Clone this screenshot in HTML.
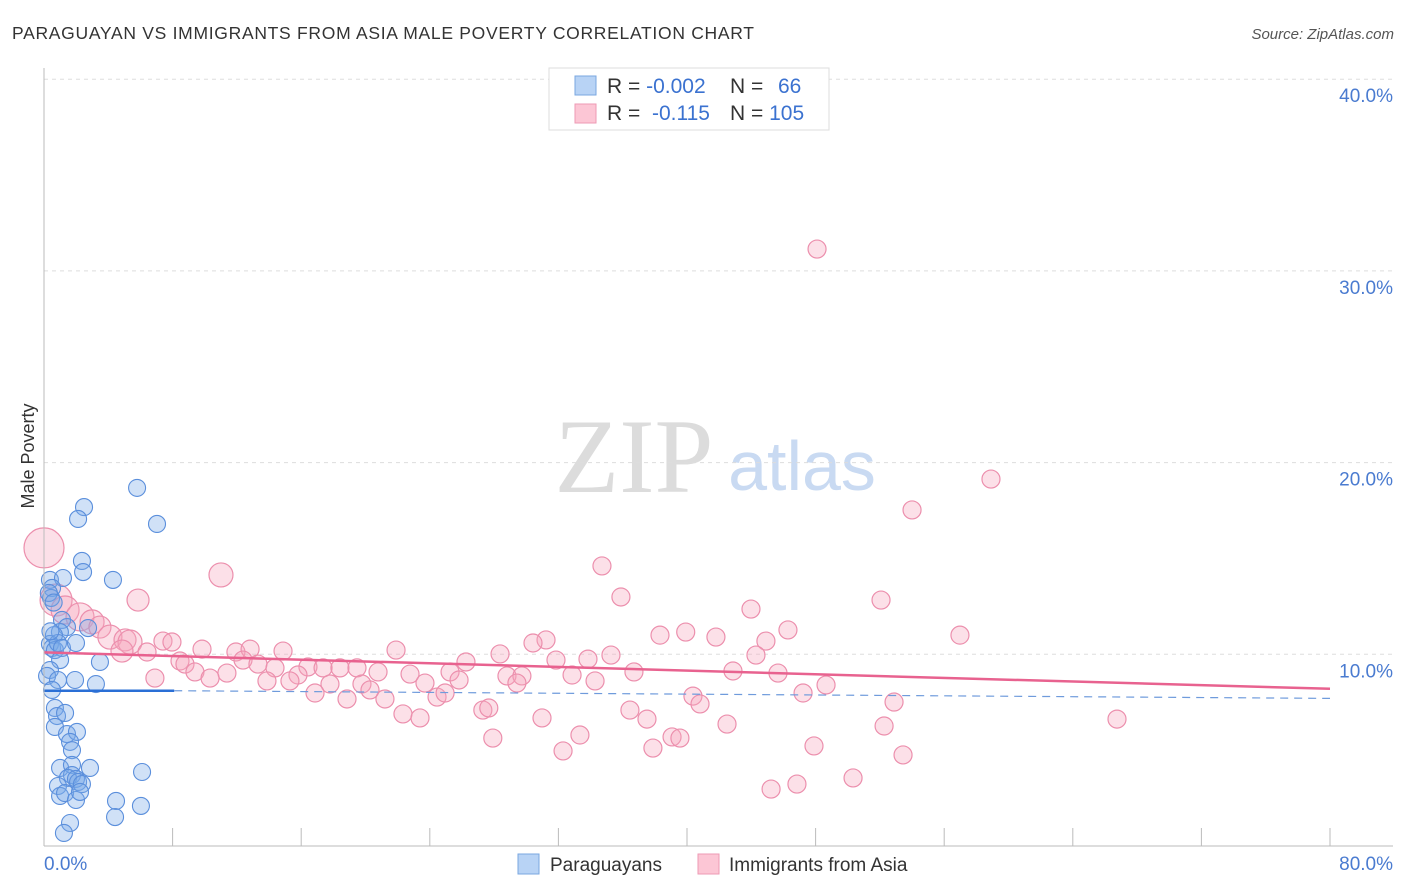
<!DOCTYPE html>
<html><head><meta charset="utf-8"><style>
body{margin:0;background:#fff;font-family:"Liberation Sans",sans-serif}
#c{position:relative;width:1406px;height:892px;overflow:hidden}
</style></head><body>
<div id="c">
<svg id="s" width="1406" height="892" xmlns="http://www.w3.org/2000/svg">
<text x="12" y="39" font-size="17.5" fill="#333" textLength="742" lengthAdjust="spacing">PARAGUAYAN VS IMMIGRANTS FROM ASIA MALE POVERTY CORRELATION CHART</text>
<text x="1394" y="39" font-size="15" fill="#555" font-style="italic" text-anchor="end">Source: ZipAtlas.com</text>
<text x="634" y="492" font-size="106" fill="#dcdcdc" font-family="Liberation Serif,serif" text-anchor="middle">ZIP</text>
<text x="802" y="490" font-size="70" fill="#c9daf2" text-anchor="middle">atlas</text>
<text transform="translate(34,456) rotate(-90)" font-size="18" fill="#333" text-anchor="middle">Male Poverty</text>
<g id="grid"></g><g id="pts"></g><g id="trend"></g>
<line x1="44" y1="68" x2="44" y2="846" stroke="#bbb"/>
<line x1="44" y1="846" x2="1393" y2="846" stroke="#bbb"/>
<text x="44" y="870" font-size="19" fill="#4a7bd0">0.0%</text>
<text x="1393" y="870" font-size="19" fill="#4a7bd0" text-anchor="end">80.0%</text>
<g>
<rect x="549" y="68" width="280" height="62" fill="#fff" stroke="#ddd"/>
<rect x="575" y="76" width="21" height="19" fill="#b8d3f5" stroke="#7aa7e0"/>
<rect x="575" y="104" width="21" height="19" fill="#fcc6d5" stroke="#ee9ab4"/>
<text x="607" y="93" font-size="21" fill="#333">R = <tspan fill="#3b72d0">-0.002</tspan></text>
<text x="730" y="93" font-size="21" fill="#333">N = <tspan fill="#3b72d0" x="778">66</tspan></text>
<text x="607" y="120" font-size="21" fill="#333">R = <tspan fill="#3b72d0" x="652">-0.115</tspan></text>
<text x="730" y="120" font-size="21" fill="#333">N = <tspan fill="#3b72d0">105</tspan></text>
</g>
<g>
<rect x="518" y="854" width="21" height="20" fill="#b8d3f5" stroke="#7aa7e0"/>
<text x="550" y="871" font-size="19" fill="#333">Paraguayans</text>
<rect x="698" y="854" width="21" height="20" fill="#fcc6d5" stroke="#ee9ab4"/>
<text x="729" y="871" font-size="19" fill="#333">Immigrants from Asia</text>
</g>
</svg>
</div>
<script>
const yTicks=[10,20,30,40];
const yTickLabels=["10.0%","20.0%","30.0%","40.0%"];
const xTicks=[0,8,16,24,32,40,48,56,64,72,80];
const blueTrend=[[0,8.1],[8.1,8.1],[80,7.7]];
const pinkTrend=[[0,10.1],[80,8.2]];
const bluePts=[[5.79,18.68],[2.49,17.68],[2.12,17.06],[7.03,16.8],[2.36,14.87],[2.43,14.29],[4.29,13.88],[0.37,13.88],[1.18,13.98],[0.5,13.46],[0.44,12.94],[1.12,11.79],[1.43,11.42],[2.74,11.37],[0.99,11.16],[0.62,11.0],[0.37,10.54],[0.5,10.33],[0.68,10.22],[0.87,10.59],[1.12,10.33],[1.99,10.59],[1.0,9.7],[3.48,9.6],[0.37,9.18],[0.19,8.87],[0.87,8.66],[1.93,8.66],[3.23,8.45],[0.5,8.14],[0.68,7.2],[0.81,6.78],[1.31,6.94],[0.68,6.21],[1.43,5.84],[2.05,5.95],[1.62,5.43],[1.74,5.0],[1.0,4.07],[2.86,4.07],[1.74,4.23],[1.74,3.7],[1.49,3.55],[1.99,3.5],[2.12,3.34],[2.36,3.23],[6.1,3.86],[0.87,3.13],[1.0,2.61],[1.31,2.76],[1.99,2.4],[2.24,2.82],[4.48,2.35],[6.03,2.09],[4.42,1.51],[1.62,1.2],[1.24,0.68],[0.3,13.2],[0.6,12.7],[0.4,11.2]];
const pinkPts=[[0,15.55,20],[48.09,31.14],[58.91,19.14],[54.0,17.53],[34.71,14.61],[11.01,14.14,12],[35.89,12.99],[5.85,12.83,11],[52.07,12.83],[43.98,12.36],[0.75,12.83,16],[1.31,12.31,14],[2.24,11.95,14],[2.99,11.69,12],[3.48,11.42,11],[4.1,10.9,12],[5.04,10.75,11],[5.35,10.64,12],[4.85,10.17,11],[7.4,10.69],[7.96,10.64],[38.32,11.0],[39.92,11.16],[41.8,10.9],[46.28,11.27],[44.91,10.69],[56.98,11.0],[31.23,10.75],[30.42,10.59],[6.41,10.12],[9.83,10.27],[11.94,10.12],[12.82,10.27],[14.87,10.17],[21.9,10.22],[28.37,10.02],[35.27,9.96],[44.29,9.96],[8.46,9.65],[8.77,9.49],[12.38,9.7],[13.31,9.49],[14.37,9.29],[16.42,9.34],[17.36,9.29],[18.41,9.29],[19.47,9.29],[20.78,9.08],[26.25,9.6],[31.85,9.7],[33.84,9.75],[9.39,9.08],[11.38,9.02],[15.8,8.92],[22.77,8.97],[25.26,9.08],[36.7,9.08],[42.86,9.13],[45.66,9.02],[6.9,8.76],[10.33,8.76],[13.87,8.61],[15.3,8.61],[17.79,8.45],[19.78,8.45],[23.7,8.5],[25.82,8.66],[28.8,8.87],[29.73,8.87],[29.42,8.5],[32.85,8.92],[34.28,8.61],[48.65,8.4],[16.86,7.98],[18.85,7.67],[20.28,8.14],[21.21,7.67],[24.45,7.77],[24.95,7.98],[40.37,7.82],[40.81,7.41],[47.22,7.98],[52.88,7.51],[27.3,7.09],[27.67,7.2],[22.33,6.89],[23.39,6.68],[30.98,6.68],[36.45,7.09],[37.51,6.62],[42.49,6.36],[52.26,6.26],[66.75,6.62],[27.92,5.63],[33.34,5.79],[39.07,5.69],[39.56,5.63],[37.88,5.11],[32.29,4.96],[47.9,5.22],[53.44,4.75],[50.33,3.55],[45.23,2.97],[46.84,3.23]];
const NS='http://www.w3.org/2000/svg';
const X=v=>44+v*16.075, Y=v=>846-v*19.17;
function mk(t,a,p){const e=document.createElementNS(NS,t);for(const k in a)e.setAttribute(k,a[k]);p.appendChild(e);return e;}
const grid=document.getElementById('grid');
yTicks.forEach((v,i)=>{
 const l=mk('line',{x1:44,x2:1393,y1:Y(v),y2:Y(v),stroke:'#ddd','stroke-dasharray':'4,4'},grid);
 
 
 const t=mk('text',{x:1393,y:Y(v)+23,'font-size':19,fill:'#4a7bd0','text-anchor':'end'},grid);
 t.textContent=yTickLabels[i];
 
 
});
xTicks.forEach(v=>{
 const l=mk('line',{x1:X(v),x2:X(v),y1:828,y2:846,stroke:'#bbb'},grid);
 
 
});
const pts=document.getElementById('pts');
pinkPts.forEach(p=>{
 const c=mk('circle',{cx:X(p[0]),cy:Y(p[1]),r:p[2]||9,fill:'rgba(246,165,190,0.35)',stroke:'#ec8fad','stroke-width':1.2},pts);
 
 
});
bluePts.forEach(p=>{
 const c=mk('circle',{cx:X(p[0]),cy:Y(p[1]),r:p[2]||8.5,fill:'rgba(120,170,232,0.35)',stroke:'#5b8fdc','stroke-width':1.1},pts);
 
 
});
const tr=document.getElementById('trend');
let b1=mk('line',{x1:X(blueTrend[0][0]),y1:Y(blueTrend[0][1]),x2:X(blueTrend[1][0]),y2:Y(blueTrend[1][1]),stroke:'#2a6fd6','stroke-width':2.5},tr);


let b2=mk('line',{x1:X(blueTrend[1][0]),y1:Y(blueTrend[1][1]),x2:X(blueTrend[2][0]),y2:Y(blueTrend[2][1]),stroke:'#6f9bdc','stroke-width':1.2,'stroke-dasharray':'8,6'},tr);


let p1=mk('line',{x1:X(pinkTrend[0][0]),y1:Y(pinkTrend[0][1]),x2:X(pinkTrend[1][0]),y2:Y(pinkTrend[1][1]),stroke:'#e8628f','stroke-width':2.5},tr);


</script>
</body></html>
